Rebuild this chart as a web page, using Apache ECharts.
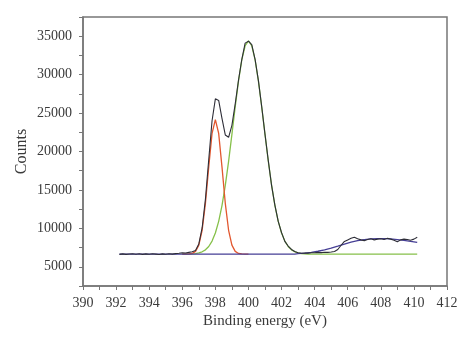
<!DOCTYPE html>
<html>
<head>
<meta charset="utf-8">
<script src="https://cdn.jsdelivr.net/npm/echarts@6/dist/echarts.min.js"></script>
<style>
  html, body { margin: 0; padding: 0; background: #fff; }
  #chart { width: 474px; height: 347px; }
</style>
</head>
<body>
<div id="chart"></div>
<script>
// N 1s spectrum: measured counts, fitted component peaks and background
const measured = [
  [392.2, 6620], [392.4, 6680], [392.6, 6610], [392.8, 6660], [393.0, 6700],
  [393.2, 6630], [393.4, 6690], [393.6, 6620], [393.8, 6680], [394.0, 6640],
  [394.2, 6700], [394.4, 6650], [394.6, 6600], [394.8, 6680], [395.0, 6630],
  [395.2, 6690], [395.4, 6650], [395.6, 6710], [395.8, 6760], [396.0, 6820],
  [396.2, 6800], [396.4, 6880], [396.6, 6950], [396.8, 7120], [397.0, 7980],
  [397.2, 10050], [397.4, 13800], [397.6, 18950], [397.8, 24000], [398.0, 26850],
  [398.2, 26650], [398.4, 24300], [398.6, 22150], [398.8, 21850], [399.0, 23400],
  [399.2, 26200], [399.4, 29300], [399.6, 32000], [399.8, 34100], [400.0, 34350],
  [400.2, 33900], [400.4, 32000], [400.6, 29250], [400.8, 25850], [401.0, 22250],
  [401.2, 18800], [401.4, 15550], [401.6, 13000], [401.8, 10900], [402.0, 9450],
  [402.2, 8300], [402.4, 7700], [402.6, 7250], [402.8, 6980], [403.0, 6820],
  [403.2, 6760], [403.4, 6800], [403.6, 6780], [403.8, 6830], [404.0, 6820],
  [404.2, 6870], [404.4, 6840], [404.6, 6900], [404.8, 6880], [405.0, 6920],
  [405.2, 6980], [405.4, 7250], [405.6, 7800], [405.8, 8300], [406.0, 8500],
  [406.2, 8700], [406.4, 8850], [406.6, 8650], [406.8, 8500], [407.0, 8400],
  [407.2, 8550], [407.4, 8650], [407.6, 8500], [407.8, 8600], [408.0, 8650],
  [408.2, 8550], [408.4, 8700], [408.6, 8600], [408.8, 8450], [409.0, 8250],
  [409.2, 8500], [409.4, 8600], [409.6, 8550], [409.8, 8450], [410.0, 8600],
  [410.2, 8850]
];

const peak398 = [
  [396.0, 6650], [396.2, 6650], [396.4, 6667], [396.6, 6737], [396.8, 7006],
  [397.0, 7820], [397.2, 9750], [397.4, 13260], [397.6, 18000], [397.8, 22360],
  [398.0, 24150], [398.2, 22360], [398.4, 18000], [398.6, 13260], [398.8, 9750],
  [399.0, 7820], [399.2, 7006], [399.4, 6737], [399.6, 6667], [399.8, 6650],
  [400.0, 6650]
];

const peak400 = [
  [396.0, 6650], [396.2, 6655], [396.4, 6665], [396.6, 6685], [396.8, 6725],
  [397.0, 6803], [397.2, 6949], [397.4, 7207], [397.6, 7640], [397.8, 8340],
  [398.0, 9400], [398.2, 10910], [398.4, 12970], [398.6, 15590], [398.8, 18720],
  [399.0, 22220], [399.2, 25820], [399.4, 29190], [399.6, 31950], [399.8, 33760],
  [400.0, 34400], [400.2, 33760], [400.4, 31950], [400.6, 29190], [400.8, 25820],
  [401.0, 22220], [401.2, 18720], [401.4, 15590], [401.6, 12970], [401.8, 10910],
  [402.0, 9400], [402.2, 8340], [402.4, 7640], [402.6, 7207], [402.8, 6949],
  [403.0, 6803], [403.2, 6725], [403.4, 6685], [403.6, 6665], [403.8, 6655],
  [404.0, 6650], [410.2, 6650]
];

const background = [
  [392.2, 6650], [402.6, 6650], [402.8, 6660], [403.0, 6700], [403.4, 6780],
  [403.8, 6880], [404.2, 7020], [404.6, 7200], [405.0, 7420], [405.4, 7680],
  [405.8, 7950], [406.2, 8200], [406.6, 8400], [407.0, 8540], [407.4, 8620],
  [407.8, 8660], [408.2, 8660], [408.6, 8620], [409.0, 8540], [409.4, 8430],
  [409.8, 8300], [410.2, 8180]
];

const axisColor = '#777777';
const textColor = '#3a3a3a';
const fontFamily = '"Liberation Serif", "DejaVu Serif", serif';

const chart = echarts.init(document.getElementById('chart'), null, { renderer: 'canvas' });

function lineSeries(name, data, color, width, z) {
  return {
    name: name,
    type: 'line',
    data: data,
    showSymbol: false,
    symbol: 'none',
    smooth: false,
    z: z,
    lineStyle: { color: color, width: width },
    emphasis: { disabled: true },
    animation: false
  };
}

chart.setOption({
  backgroundColor: '#ffffff',
  animation: false,
  grid: {
    left: 83, right: 27, top: 17, bottom: 61,
    show: true,
    borderColor: axisColor,
    borderWidth: 1.5,
    backgroundColor: 'transparent'
  },
  xAxis: {
    type: 'value',
    min: 390, max: 412, interval: 2,
    name: 'Binding energy (eV)',
    nameLocation: 'middle',
    nameGap: 28,
    nameMoveOverlap: false,
    nameTextStyle: { color: textColor, fontFamily: fontFamily, fontSize: 15 },
    axisLine: { show: true, onZero: false, lineStyle: { color: axisColor, width: 1.5 } },
    axisTick: { show: true, inside: false, length: 4, lineStyle: { color: axisColor } },
    minorTick: { show: true, splitNumber: 2, length: 4, lineStyle: { color: axisColor } },
    axisLabel: { color: textColor, fontFamily: fontFamily, fontSize: 14, margin: 10 },
    splitLine: { show: false }
  },
  yAxis: {
    type: 'value',
    min: 2500, max: 37500, interval: 2500,
    name: 'Counts',
    nameLocation: 'middle',
    nameGap: 53,
    nameMoveOverlap: false,
    nameTextStyle: { color: textColor, fontFamily: fontFamily, fontSize: 16 },
    axisLine: { show: true, onZero: false, lineStyle: { color: axisColor, width: 1.5 } },
    axisTick: { show: true, inside: false, length: 4, lineStyle: { color: axisColor } },
    axisLabel: {
      color: textColor, fontFamily: fontFamily, fontSize: 14, margin: 11,
      formatter: function (v) { return v % 5000 === 0 ? String(v) : ''; }
    },
    splitLine: { show: false }
  },
  series: [
    lineSeries('N 1s (400.0 eV)', peak400, '#86c04a', 1.3, 2),
    lineSeries('N 1s (398.0 eV)', peak398, '#e2572f', 1.3, 3),
    lineSeries('Background', background, '#463f95', 1.3, 4),
    lineSeries('Measured', measured, '#2e2e38', 1.1, 5)
  ]
});
</script>
</body>
</html>
